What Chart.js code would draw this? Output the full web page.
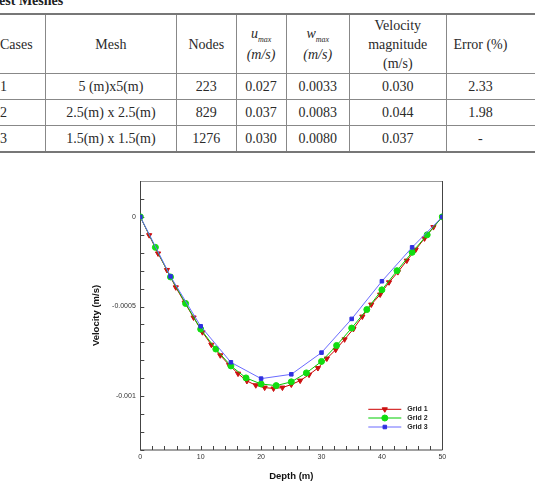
<!DOCTYPE html>
<html>
<head>
<meta charset="utf-8">
<script src="https://cdn.jsdelivr.net/npm/chart.js@4/dist/chart.umd.min.js"></script>
<style>
  html, body { margin: 0; padding: 0; background: #fff; }
  body { width: 541px; height: 488px; position: relative; overflow: hidden; }
  #titulo {
    position: absolute; left: -9px; top: -6px;
    font: bold 14px "Liberation Serif", "Times New Roman", serif;
    line-height: 14px; color: #222; white-space: nowrap;
  }
  table {
    position: absolute; left: -6px; top: 13px;
    border-collapse: collapse; table-layout: fixed;
    font: 14px "Liberation Serif", "Times New Roman", serif; color: #2a2a2a;
  }
  td { border-left: 1px solid #888; border-top: 1px solid #888; text-align: center; padding: 0; white-space: nowrap; }
  tr.cab td { height: 58px; line-height: 19px; border-top: 2px solid #777; }
  tr.fila td { height: 25px; }
  tr.ultima td { border-bottom: 2px solid #777; }
  td.caso { border-left: none; text-align: left; padding-left: 6px; }
  td.relleno { border-left: none; }
  .it { font-style: italic; }
  .sub { font-size: 8px; font-style: italic; position: relative; top: 4px; }
  #lienzo { position: absolute; left: 0; top: 160px; }
</style>
</head>
<body>
<div id="titulo">Test Meshes</div>
<table>
  <colgroup>
    <col style="width:52px"><col style="width:134px"><col style="width:61px"><col style="width:51px">
    <col style="width:65px"><col style="width:99px"><col style="width:69px"><col style="width:22px">
  </colgroup>
  <tr class="cab">
    <td class="caso">Cases</td><td>Mesh</td><td>Nodes</td>
    <td><span class="it">u</span><span class="sub">max</span><br><span class="it">(m/s)</span></td>
    <td><span class="it">w</span><span class="sub">max</span><br><span class="it">(m/s)</span></td>
    <td>Velocity<br>magnitude<br>(m/s)</td><td>Error (%)</td><td class="relleno"></td>
  </tr>
  <tr class="fila"><td class="caso">1</td><td>5 (m)x5(m)</td><td>223</td><td>0.027</td><td>0.0033</td><td>0.030</td><td>2.33</td><td class="relleno"></td></tr>
  <tr class="fila"><td class="caso">2</td><td>2.5(m) x 2.5(m)</td><td>829</td><td>0.037</td><td>0.0083</td><td>0.044</td><td>1.98</td><td class="relleno"></td></tr>
  <tr class="fila ultima"><td class="caso">3</td><td>1.5(m) x 1.5(m)</td><td>1276</td><td>0.030</td><td>0.0080</td><td>0.037</td><td>-</td><td class="relleno"></td></tr>
</table>
<canvas id="lienzo" width="541" height="328"></canvas>
<script>
// Datos
const etiquetas = ['Grid 1', 'Grid 2', 'Grid 3'];

const grid1X = [0, 1.47, 2.94, 4.41, 5.88, 7.35, 8.82, 10.29, 11.76, 13.24, 14.71, 16.18, 17.65, 19.12,
  20.59, 22.06, 23.53, 25, 26.47, 27.94, 29.41, 30.88, 32.35, 33.82, 35.29, 36.76, 38.24, 39.71,
  41.18, 42.65, 44.12, 45.59, 47.06, 48.53, 50];
const grid1Y = [0, -0.000102, -0.000204, -0.000296, -0.000393, -0.000478, -0.000561, -0.000643, -0.000713,
  -0.000772, -0.000826, -0.000874, -0.000915, -0.000939, -0.000952, -0.000957, -0.000952, -0.000935,
  -0.000913, -0.00088, -0.000843, -0.00079, -0.000741, -0.000683, -0.000625, -0.000556, -0.000489,
  -0.000433, -0.000365, -0.000308, -0.000244, -0.000183, -0.00012, -0.000057, 0];

const grid2X = [0, 2.5, 5, 7.5, 10, 12.5, 15, 17.5, 20, 22.5, 25, 27.5, 30, 32.5, 35, 37.5, 40, 42.5, 45, 47.5, 50];
const grid2Y = [0, -0.00017, -0.000335, -0.000483, -0.000626, -0.000737, -0.000831, -0.000898, -0.000932,
  -0.000941, -0.00092, -0.00087, -0.000806, -0.000717, -0.00062, -0.000517, -0.000407, -0.0003,
  -0.000198, -0.0001, 0];

const grid3X = [0, 5, 10, 15, 20, 25, 30, 35, 40, 45, 50];
const grid3Y = [0, -0.000332, -0.00061, -0.000811, -0.000902, -0.000878, -0.000757, -0.000569, -0.000359, -0.00017, 0];

const xTicks = [0, 10, 20, 30, 40, 50];
const xTickLabels = ['0', '10', '20', '30', '40', '50'];
const yTicks = [0, -0.0005, -0.001];
const yTickLabels = ['0', '-0.0005', '-0.001'];

const fuente = '"Liberation Sans", Arial, sans-serif';

function puntos(xs, ys) {
    return xs.map((x, i) => ({ x: x, y: ys[i] }));
}

const estilos = [
    { color: '#cc0000', fondo: '#cc1010', forma: 'triangle', radio: 3, rot: 180 },
    { color: '#00cc00', fondo: '#11dd11', forma: 'circle', radio: 3, rot: 0 },
    { color: '#6a6aff', fondo: '#3030e0', forma: 'rect', radio: 2.5, rot: 0 }
];

// Marco, marcas hacia dentro y leyenda
const marcoPlugin = {
    id: 'marco',
    beforeDatasetsDraw(chart) {
        const { ctx, chartArea: a, scales: { x, y } } = chart;
        ctx.save();
        ctx.lineWidth = 1;
        ctx.strokeStyle = '#444';
        ctx.beginPath();
        for (let v = 0; v <= 50; v += 2) {
            const px = Math.round(x.getPixelForValue(v)) + 0.5;
            ctx.moveTo(px, a.bottom); ctx.lineTo(px, a.bottom - 4);
        }
        for (let i = -13; i <= 2; i++) {
            const py = Math.round(y.getPixelForValue(i * 0.0001)) + 0.5;
            ctx.moveTo(a.left, py); ctx.lineTo(a.left + 4, py);
        }
        ctx.stroke();
        ctx.strokeStyle = '#999';
        ctx.beginPath();
        ctx.moveTo(a.left, Math.round(a.top) + 0.5); ctx.lineTo(a.right, Math.round(a.top) + 0.5);
        ctx.stroke();
        ctx.strokeStyle = '#444';
        ctx.beginPath();
        ctx.moveTo(Math.round(a.left) + 0.5, a.top); ctx.lineTo(Math.round(a.left) + 0.5, a.bottom);
        ctx.lineTo(Math.round(a.right) + 0.5, a.bottom); ctx.lineTo(Math.round(a.right) + 0.5, a.top);
        ctx.stroke();
        ctx.restore();
    },
    afterDatasetsDraw(chart) {
        const { ctx, chartArea: a } = chart;
        ctx.save();
        const x0 = a.right - 74, largo = 33, ys = [a.bottom - 40.7, a.bottom - 32, a.bottom - 23];
        etiquetas.forEach((et, i) => {
            const e = estilos[i];
            ctx.strokeStyle = e.color;
            ctx.lineWidth = 1;
            ctx.beginPath();
            ctx.moveTo(x0, ys[i]); ctx.lineTo(x0 + largo, ys[i]);
            ctx.stroke();
            ctx.fillStyle = e.fondo;
            ctx.strokeStyle = e.fondo;
            Chart.helpers.drawPoint(ctx, { pointStyle: e.forma, radius: e.radio, rotation: e.rot, borderWidth: 1 },
                x0 + largo / 2, ys[i]);
            ctx.fillStyle = '#222';
            ctx.font = 'bold 7px ' + fuente;
            ctx.textBaseline = 'middle';
            ctx.fillText(et, x0 + largo + 6, ys[i]);
        });
        ctx.restore();
    }
};

const conjuntos = [
    { datos: puntos(grid1X, grid1Y), orden: 3 },
    { datos: puntos(grid2X, grid2Y), orden: 2 },
    { datos: puntos(grid3X, grid3Y), orden: 1 }
].map((c, i) => ({
    label: etiquetas[i],
    data: c.datos,
    order: c.orden,
    borderColor: estilos[i].color,
    borderWidth: 1,
    backgroundColor: estilos[i].fondo,
    pointBackgroundColor: estilos[i].fondo,
    pointBorderColor: estilos[i].fondo,
    pointBorderWidth: 1,
    pointStyle: estilos[i].forma,
    pointRadius: estilos[i].radio,
    pointRotation: estilos[i].rot,
    tension: 0,
    fill: false
}));

const ctx = document.getElementById('lienzo').getContext('2d');
new Chart(ctx, {
    type: 'line',
    data: { datasets: conjuntos },
    options: {
        responsive: false,
        animation: false,
        devicePixelRatio: 1,
        layout: { padding: { left: 90, right: 98.7, top: 21, bottom: 0 } },
        plugins: { legend: { display: false }, tooltip: { enabled: false } },
        scales: {
            x: {
                type: 'linear', min: 0, max: 50,
                afterBuildTicks: s => { s.ticks = xTicks.map(v => ({ value: v })); },
                afterFit: s => { s.height = 38; },
                grid: { display: false, drawTicks: false },
                border: { display: false },
                ticks: {
                    padding: 3, color: '#333', font: { family: fuente, size: 7 },
                    maxRotation: 0, autoSkip: false,
                    callback: v => xTickLabels[xTicks.indexOf(v)]
                },
                title: { display: true, text: 'Depth (m)', color: '#111',
                    font: { family: fuente, size: 9.5, weight: 'bold' }, padding: { top: 0, bottom: 5.6 } }
            },
            y: {
                type: 'linear', min: -0.0013, max: 0.0002,
                afterBuildTicks: s => { s.ticks = yTicks.map(v => ({ value: v })); },
                afterFit: s => { s.width = 50.3; },
                grid: { display: false, drawTicks: false },
                border: { display: false },
                ticks: {
                    padding: 4.5, color: '#333', font: { family: fuente, size: 7 },
                    autoSkip: false,
                    callback: v => yTickLabels[yTicks.indexOf(v)]
                },
                title: { display: true, text: 'Velocity (m/s)', color: '#111',
                    font: { family: fuente, size: 9.5, weight: 'bold' }, padding: { top: 1, bottom: 0 } }
            }
        }
    },
    plugins: [marcoPlugin]
});
</script>
</body>
</html>
